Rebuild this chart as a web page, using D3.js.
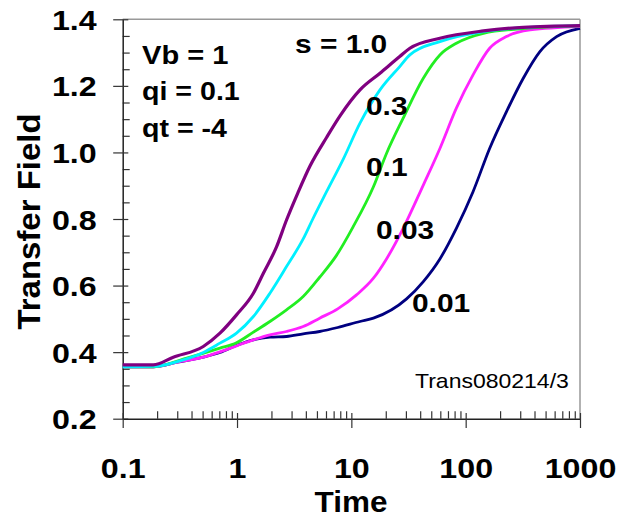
<!DOCTYPE html>
<html>
<head>
<meta charset="utf-8">
<script src="https://cdn.jsdelivr.net/npm/d3@7"></script>
<style>
  body { margin: 0; background: #fff; }
  text { font-family: "Liberation Sans", Arial, Helvetica, sans-serif; }
</style>
</head>
<body>
<div id="chart"></div>
<script>
// data (time, transfer field)
var timeS10 = [0.1, 0.185, 0.277, 0.507, 0.709, 0.99, 1.39, 1.7, 2.22, 2.71, 3.4, 4.36, 6.07, 7.96, 11.9, 17.8, 26.5, 32.5, 59.5, 143, 319, 1000];
var fieldS10 = [0.362, 0.362, 0.385, 0.417, 0.457, 0.512, 0.577, 0.637, 0.717, 0.797, 0.878, 0.96, 1.045, 1.11, 1.188, 1.238, 1.288, 1.313, 1.343, 1.365, 1.376, 1.381];

var timeS03 = [0.1, 0.185, 0.296, 0.507, 0.709, 0.99, 1.39, 1.94, 2.71, 3.79, 4.6, 6.07, 8.5, 11.9, 17.8, 26.5, 32.5, 59.5, 143, 319, 1000];
var fieldS03 = [0.356, 0.357, 0.371, 0.399, 0.427, 0.457, 0.507, 0.577, 0.657, 0.74, 0.8, 0.882, 0.98, 1.088, 1.188, 1.258, 1.293, 1.333, 1.363, 1.375, 1.381];

var timeS01 = [0.1, 0.185, 0.363, 0.709, 0.99, 1.39, 1.94, 2.71, 3.79, 5.28, 7.39, 10.3, 15.6, 20.3, 28.4, 42.6, 59.5, 82.9, 143, 319, 1000];
var fieldS01 = [0.356, 0.356, 0.382, 0.412, 0.428, 0.46, 0.492, 0.527, 0.567, 0.625, 0.69, 0.775, 0.897, 0.997, 1.103, 1.223, 1.293, 1.328, 1.358, 1.372, 1.38];

var timeS003 = [0.1, 0.185, 0.3, 0.507, 0.709, 0.99, 1.39, 1.94, 2.71, 3.79, 5.28, 7.6, 11.1, 15.6, 20.3, 28.4, 42.6, 59.5, 82.9, 116, 162, 227, 366, 1000];
var fieldS003 = [0.356, 0.356, 0.37, 0.385, 0.401, 0.419, 0.437, 0.452, 0.462, 0.477, 0.502, 0.53, 0.572, 0.622, 0.68, 0.772, 0.902, 1.012, 1.133, 1.233, 1.313, 1.348, 1.368, 1.378];

var timeS001 = [0.1, 0.185, 0.3, 0.507, 0.709, 0.99, 1.39, 1.94, 2.71, 3.79, 5.28, 7.6, 11.9, 15.6, 30.4, 42.6, 59.5, 82.9, 116, 162, 227, 319, 446, 624, 1000];
var fieldS001 = [0.356, 0.356, 0.37, 0.385, 0.399, 0.42, 0.437, 0.445, 0.447, 0.455, 0.462, 0.474, 0.492, 0.502, 0.56, 0.612, 0.68, 0.772, 0.882, 1.012, 1.122, 1.223, 1.303, 1.348, 1.373];

var seriesLabels = ["s = 1.0", "0.3", "0.1", "0.03", "0.01"];
var seriesColors = ["#800080", "#00f0ff", "#22ee22", "#ff22ff", "#000080"];

var xTickValues = [0.1, 1, 10, 100, 1000];
var yTickValues = [0.2, 0.4, 0.6, 0.8, 1.0, 1.2, 1.4];

var svgWidth = 629;
var svgHeight = 518;

var margin = {
    top: 19.3,
    right: 49,
    bottom: 99.3,
    left: 122.7
};

var width = svgWidth - margin.left - margin.right;
var height = svgHeight - margin.top - margin.bottom;

var svg = d3.select("#chart")
    .append("svg")
    .attr("width", svgWidth)
    .attr("height", svgHeight);

var chartGroup = svg.append("g")
    .attr("transform", `translate(${margin.left}, ${margin.top})`);

// scales
var xLogScale = d3.scaleLog()
    .domain([0.1, 1000])
    .range([0, width]);

var yLinearScale = d3.scaleLinear()
    .domain([0.2, 1.4])
    .range([height, 0]);

// text is a bit wider than plain Arial in the picture, so stretch it
function addText(parent, str, x, y, size, sx, anchor, weight) {
    return parent.append("text")
        .attr("transform", `translate(${x}, ${y}) scale(${sx}, 1)`)
        .attr("text-anchor", anchor || "start")
        .attr("font-size", size)
        .attr("font-weight", weight || "bold")
        .attr("fill", "#000")
        .text(str);
}

// frame top and right
chartGroup.append("line")
    .attr("x1", 0).attr("x2", width).attr("y1", 0).attr("y2", 0)
    .attr("stroke", "#999").attr("stroke-width", 1.5);
chartGroup.append("line")
    .attr("x1", width).attr("x2", width).attr("y1", 0).attr("y2", height)
    .attr("stroke", "#999").attr("stroke-width", 1.5);

// minor ticks
var yMinor = d3.range(0.25, 1.4, 0.05).filter(d => Math.abs(d * 5 - Math.round(d * 5)) > 0.01);
chartGroup.append("g")
    .call(d3.axisRight(yLinearScale).tickValues(yMinor).tickSize(7).tickFormat(""))
    .call(g => g.select(".domain").remove())
    .selectAll("line").attr("stroke", "#333").attr("stroke-width", 1.2);

var xMinor = [];
[0.1, 1, 10, 100].forEach(function (dec) {
    for (var k = 2; k <= 9; k++) xMinor.push(dec * k);
});
chartGroup.append("g")
    .attr("transform", `translate(0, ${height})`)
    .call(d3.axisTop(xLogScale).tickValues(xMinor).tickSize(7.5).tickFormat(""))
    .call(g => g.select(".domain").remove())
    .selectAll("line").attr("stroke", "#333").attr("stroke-width", 1.2);

// major axes
var yAxisG = chartGroup.append("g")
    .call(d3.axisLeft(yLinearScale).tickValues(yTickValues).tickFormat(d3.format(".1f")).tickSizeOuter(0));
yAxisG.select(".domain").attr("stroke", "#222").attr("stroke-width", 1.5);
yAxisG.selectAll(".tick line").attr("x1", 5.6).attr("x2", -9.5).attr("stroke", "#333").attr("stroke-width", 1.2);
yAxisG.selectAll(".tick text")
    .attr("x", null).attr("dy", "0.36em")
    .attr("transform", "translate(-26, 0) scale(1.15, 1)")
    .attr("font-size", 28).attr("font-weight", "bold").attr("fill", "#000")
    .attr("font-family", null);

var xAxisG = chartGroup.append("g")
    .attr("transform", `translate(0, ${height})`)
    .call(d3.axisBottom(xLogScale).tickValues(xTickValues).tickFormat(d => String(d)).tickSizeOuter(0));
xAxisG.select(".domain").attr("stroke", "#222").attr("stroke-width", 1.5);
xAxisG.selectAll(".tick line").attr("y1", -5.7).attr("y2", 9.3).attr("stroke", "#333").attr("stroke-width", 1.2);
xAxisG.selectAll(".tick text")
    .attr("y", null).attr("dy", null)
    .attr("transform", "translate(0, 59.5) scale(1.15, 1)")
    .attr("font-size", 28).attr("font-weight", "bold").attr("fill", "#000")
    .attr("font-family", null);

// curves
var seriesData = [
    d3.zip(timeS10, fieldS10),
    d3.zip(timeS03, fieldS03),
    d3.zip(timeS01, fieldS01),
    d3.zip(timeS003, fieldS003),
    d3.zip(timeS001, fieldS001)
];

var lineGen = d3.line()
    .x(d => xLogScale(d[0]))
    .y(d => yLinearScale(d[1]))
    .curve(d3.curveMonotoneX);

// draw the slowest first so purple ends on top
seriesData.slice().reverse().forEach(function (pts, i) {
    var idx = seriesData.length - 1 - i;
    chartGroup.append("path")
        .datum(pts)
        .attr("d", lineGen)
        .attr("fill", "none")
        .attr("stroke", seriesColors[idx])
        .attr("stroke-width", idx === 0 ? 3.2 : 2.8)
        .attr("stroke-linejoin", "round");
});

// series labels
var labelPos = [[295, 53.3], [366, 115], [366, 175.7], [376, 239.3], [412, 311.7]];
seriesLabels.forEach(function (lab, i) {
    addText(svg, lab, labelPos[i][0], labelPos[i][1], 26, 1.15);
});

// parameters
addText(svg, "Vb = 1", 142, 64, 26, 1.12);
addText(svg, "qi = 0.1", 142, 100, 26, 1.1);
addText(svg, "qt = -4", 142, 137, 26, 1.1);

addText(svg, "Trans080214/3", 415, 388, 20, 1.15, "start", "normal");

// axis titles
addText(svg, "Time", 351, 512, 30, 1.05, "middle");

svg.append("text")
    .attr("transform", "translate(40, 221.5) rotate(-90) scale(1.03, 1)")
    .attr("text-anchor", "middle")
    .attr("font-size", 32)
    .attr("font-weight", "bold")
    .text("Transfer Field");
</script>
</body>
</html>
